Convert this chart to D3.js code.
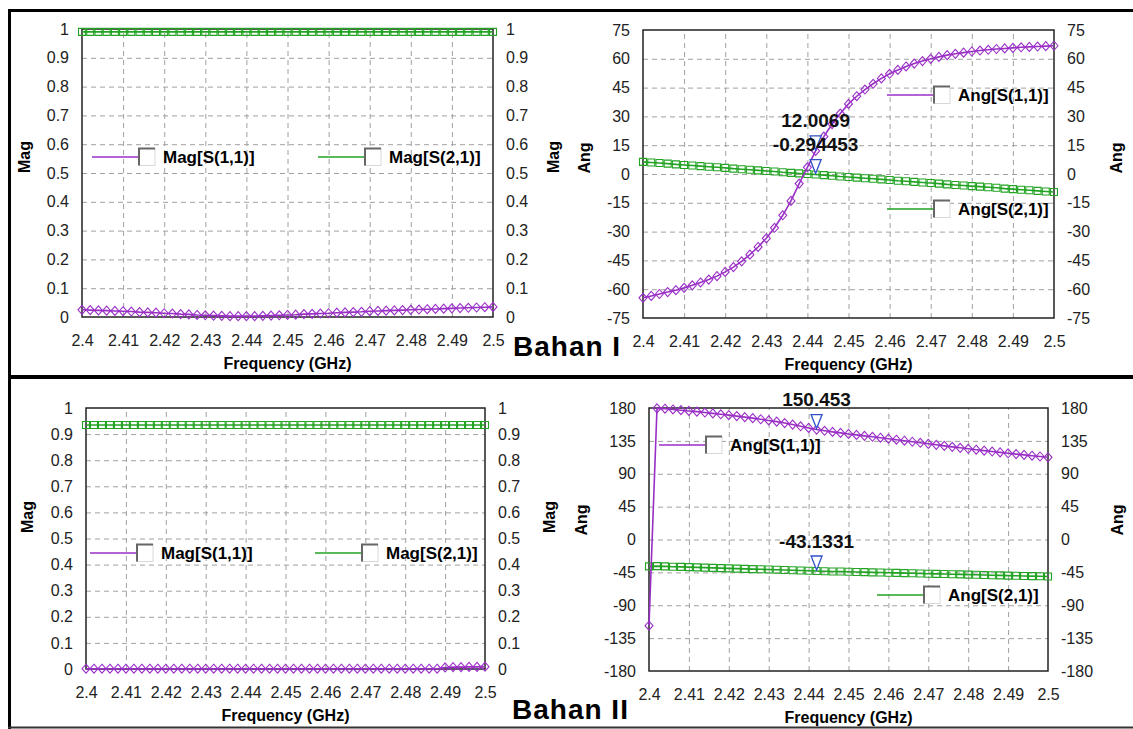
<!DOCTYPE html>
<html>
<head>
<meta charset="utf-8">
<script src="https://cdn.jsdelivr.net/npm/d3@7"></script>
<style>
  body { margin: 0; background: #fff; }
  text { font-family: "Liberation Sans", Arial, sans-serif; }
</style>
</head>
<body>
<svg width="1133" height="729"></svg>
<script>
// sweep points (GHz)
const freq = [2.400,2.402,2.404,2.406,2.408,2.410,2.412,2.414,2.416,2.418,
  2.420,2.422,2.424,2.426,2.428,2.430,2.432,2.434,2.436,2.438,
  2.440,2.442,2.444,2.446,2.448,2.450,2.452,2.454,2.456,2.458,
  2.460,2.462,2.464,2.466,2.468,2.470,2.472,2.474,2.476,2.478,
  2.480,2.482,2.484,2.486,2.488,2.490,2.492,2.494,2.496,2.498,
  2.500];

// tick values / labels
const xTicks = [2.4,2.41,2.42,2.43,2.44,2.45,2.46,2.47,2.48,2.49,2.5];
const xTickLabels = ["2.4","2.41","2.42","2.43","2.44","2.45","2.46","2.47","2.48","2.49","2.5"];
const magTicks = [0,0.1,0.2,0.3,0.4,0.5,0.6,0.7,0.8,0.9,1];
const angTicksI = [-75,-60,-45,-30,-15,0,15,30,45,60,75];
const angTicksII = [-180,-135,-90,-45,0,45,90,135,180];

// Bahan I
const magS11_I = [0.025,0.024,0.023,0.022,0.021,0.020,0.019,0.017,0.016,0.015,
  0.013,0.012,0.010,0.009,0.007,0.006,0.005,0.004,0.003,0.003,
  0.003,0.003,0.004,0.005,0.006,0.007,0.008,0.010,0.011,0.012,
  0.013,0.015,0.016,0.017,0.018,0.020,0.021,0.022,0.023,0.024,
  0.025,0.026,0.027,0.028,0.029,0.030,0.031,0.032,0.033,0.034,
  0.035];
const magS21_I = [0.99,0.99,0.99,0.99,0.99,0.99,0.99,0.99,0.99,0.99,
  0.99,0.99,0.99,0.99,0.99,0.99,0.99,0.99,0.99,0.99,
  0.99,0.99,0.99,0.99,0.99,0.99,0.99,0.99,0.99,0.99,
  0.99,0.99,0.99,0.99,0.99,0.99,0.99,0.99,0.99,0.99,
  0.99,0.99,0.99,0.99,0.99,0.99,0.99,0.99,0.99,0.99,
  0.99];
const angS11_I = [-64.5,-63.5,-62.5,-61.5,-60.5,-59.3,-58.0,-56.5,-55.0,-53.2,
  -51.0,-48.5,-45.5,-42.0,-38.0,-33.5,-28.0,-21.5,-14.0,-5.0,
  3.5,12.0069,19.5,26.0,31.5,36.5,40.5,44.0,47.0,49.8,
  52.2,54.2,56.0,57.5,58.8,60.0,61.0,61.9,62.6,63.2,
  63.8,64.3,64.7,65.1,65.4,65.7,66.0,66.2,66.4,66.6,
  66.8];
const angS21_I = [6.3,6.0,5.7,5.4,5.0,4.7,4.4,4.1,3.8,3.5,
  3.2,2.8,2.5,2.2,1.9,1.6,1.3,0.9,0.6,0.3,
  0.0,-0.294453,-0.6,-0.9,-1.3,-1.6,-1.9,-2.2,-2.5,-2.8,
  -3.1,-3.5,-3.8,-4.1,-4.4,-4.7,-5.0,-5.4,-5.7,-6.0,
  -6.3,-6.6,-6.9,-7.2,-7.6,-7.9,-8.2,-8.5,-8.8,-9.1,
  -9.4];

// Bahan II
const magS11_II = [0.001,0.001,0.001,0.001,0.001,0.001,0.001,0.001,0.001,0.001,
  0.001,0.001,0.001,0.001,0.001,0.001,0.001,0.001,0.001,0.001,
  0.001,0.001,0.001,0.001,0.001,0.001,0.001,0.001,0.001,0.001,
  0.001,0.001,0.001,0.001,0.001,0.001,0.001,0.001,0.001,0.001,
  0.001,0.001,0.001,0.001,0.001,0.006,0.007,0.007,0.008,0.008,
  0.009];
const magS21_II = [0.935,0.935,0.935,0.935,0.935,0.935,0.935,0.935,0.935,0.935,
  0.935,0.935,0.935,0.935,0.935,0.935,0.935,0.935,0.935,0.935,
  0.935,0.935,0.935,0.935,0.935,0.935,0.935,0.935,0.935,0.935,
  0.935,0.935,0.935,0.935,0.935,0.935,0.935,0.935,0.935,0.935,
  0.935,0.935,0.935,0.935,0.935,0.935,0.935,0.935,0.935,0.935,
  0.935];
const angS11_II = [-118,179.5,179.0,178.0,177.0,176.0,175.0,173.8,172.6,171.4,
  170.2,168.9,167.5,166.1,164.6,163.0,161.3,159.4,157.3,155.0,
  152.7,150.453,148.8,147.3,145.9,144.5,143.2,141.9,140.6,139.3,
  138.0,136.6,135.2,133.8,132.4,131.0,129.6,128.2,126.8,125.5,
  124.2,122.9,121.6,120.4,119.2,118.0,116.9,115.8,114.7,113.6,
  112.5];
const angS21_II = [-36.8,-36.5,-36.8,-37.2,-37.5,-37.8,-38.2,-38.5,-38.8,-39.2,
  -39.5,-39.8,-40.2,-40.5,-40.8,-41.1,-41.5,-41.8,-42.1,-42.5,
  -42.8,-43.1331,-43.4,-43.7,-43.9,-44.2,-44.4,-44.7,-45.0,-45.2,
  -45.5,-45.7,-46.0,-46.3,-46.5,-46.8,-47.0,-47.3,-47.6,-47.8,
  -48.1,-48.3,-48.6,-48.9,-49.1,-49.4,-49.6,-49.9,-50.2,-50.4,
  -50.7];

// marker readouts (at index of 2.442 GHz)
const markerIndex = 21;
const markerTextI = ["12.0069", "-0.294453"];
const markerTextII = ["150.453", "-43.1331"];

const purple = "#9a2fc6", green = "#22a322";

const svg = d3.select("svg");

// layout of the four plots
const panels = [
  { l: 82, r: 493, t: 29, b: 317, dom: [0, 1], ticks: magTicks, title: "Mag",
    s11: magS11_I, s21: magS21_I, names: ["Mag[S(1,1)]", "Mag[S(2,1)]"],
    leg: [[92, 157], [318, 157]], titleY: 157, tl: 24, tr: 553 },
  { l: 643, r: 1054, t: 30, b: 318, dom: [-75, 75], ticks: angTicksI, title: "Ang",
    s11: angS11_I, s21: angS21_I, names: ["Ang[S(1,1)]", "Ang[S(2,1)]"],
    leg: [[887, 95], [887, 209]], titleY: 158, tl: 584, tr: 1116, marks: markerTextI },
  { l: 86, r: 485, t: 408, b: 669, dom: [0, 1], ticks: magTicks, title: "Mag",
    s11: magS11_II, s21: magS21_II, names: ["Mag[S(1,1)]", "Mag[S(2,1)]"],
    leg: [[90, 553], [315, 553]], titleY: 517, tl: 27, tr: 549 },
  { l: 649, r: 1048, t: 408, b: 671, dom: [-180, 180], ticks: angTicksII, title: "Ang",
    s11: angS11_II, s21: angS21_II, names: ["Ang[S(1,1)]", "Ang[S(2,1)]"],
    leg: [[659, 445], [877, 595]], titleY: 520, tl: 581, tr: 1117, marks: markerTextII }
];

const diamond = "M0,-4.5L4,0L0,4.5L-4,0Z";
const square = "M-3.5,-3.5h7v7h-7Z";

panels.forEach((p) => {
  const x = d3.scaleLinear().domain([2.4, 2.5]).range([p.l, p.r]);
  const y = d3.scaleLinear().domain(p.dom).range([p.b, p.t]);
  const g = svg.append("g");

  // dashed grid
  const gx = g.append("g")
    .attr("transform", "translate(0," + p.b + ")")
    .call(d3.axisBottom(x).tickValues(xTicks.slice(1, -1)).tickSize(-(p.b - p.t)).tickFormat(""));
  const gy = g.append("g")
    .attr("transform", "translate(" + p.l + ",0)")
    .call(d3.axisLeft(y).tickValues(p.ticks.slice(1, -1)).tickSize(-(p.r - p.l)).tickFormat(""));
  [gx, gy].forEach((a) => {
    a.select(".domain").remove();
    a.selectAll("line").attr("stroke", "#a0a0a0").attr("stroke-dasharray", "5,4");
  });

  g.append("rect")
    .attr("x", p.l).attr("y", p.t)
    .attr("width", p.r - p.l).attr("height", p.b - p.t)
    .attr("fill", "none").attr("stroke", "#222").attr("stroke-width", 1.5);

  // tick labels
  const axes = [
    [d3.axisLeft(y).tickValues(p.ticks).tickFormat((d) => String(d)), "translate(" + p.l + ",0)", 13],
    [d3.axisRight(y).tickValues(p.ticks).tickFormat((d) => String(d)), "translate(" + p.r + ",0)", 13],
    [d3.axisBottom(x).tickValues(xTicks).tickFormat((d, i) => xTickLabels[i]), "translate(0," + p.b + ")", 18]
  ];
  axes.forEach(([ax, tr, pad]) => {
    const a = g.append("g").attr("transform", tr).call(ax.tickSize(0).tickPadding(pad));
    a.select(".domain").remove();
    a.selectAll("text")
      .style("font-family", "'Liberation Sans', Arial, sans-serif")
      .style("font-size", "16px").attr("fill", "#222");
  });

  // axis titles
  [p.tl, p.tr].forEach((tx) => {
    g.append("text")
      .attr("transform", "translate(" + tx + "," + p.titleY + ") rotate(-90)")
      .attr("text-anchor", "middle").attr("dominant-baseline", "central")
      .style("font-size", "16px").style("font-weight", "bold")
      .text(p.title);
  });
  g.append("text")
    .attr("x", (p.l + p.r) / 2).attr("y", p.b + 46)
    .attr("text-anchor", "middle").attr("dominant-baseline", "central")
    .style("font-size", "16px").style("font-weight", "bold")
    .text("Frequency (GHz)");

  // traces
  const series = [
    { v: p.s21, c: green, m: square },
    { v: p.s11, c: purple, m: diamond }
  ];
  series.forEach((s) => {
    const line = d3.line().x((d, i) => x(freq[i])).y((d) => y(d));
    g.append("path").datum(s.v)
      .attr("d", line).attr("fill", "none")
      .attr("stroke", s.c).attr("stroke-width", 1.6);
    g.selectAll(null).data(s.v).enter().append("path")
      .attr("d", s.m)
      .attr("transform", (d, i) => "translate(" + x(freq[i]) + "," + y(d) + ")")
      .attr("fill", "none").attr("stroke", s.c).attr("stroke-width", 1.1);
  });

  // legend
  [[p.s11, purple], [p.s21, green]].forEach((s, k) => {
    const [lx, ly] = p.leg[k];
    g.append("line").attr("x1", lx).attr("x2", lx + 46).attr("y1", ly).attr("y2", ly)
      .attr("stroke", s[1]).attr("stroke-width", 1.5);
    g.append("rect").attr("x", lx + 47).attr("y", ly - 8.5).attr("width", 16).attr("height", 17)
      .attr("fill", "#fff").attr("stroke", "#d8d8d8");
    g.append("path")
      .attr("d", "M" + (lx + 47) + "," + (ly + 8.5) + "V" + (ly - 8.5) + "H" + (lx + 63))
      .attr("fill", "none").attr("stroke", "#666").attr("stroke-width", 2);
    g.append("text").attr("x", lx + 71).attr("y", ly)
      .attr("dominant-baseline", "central")
      .style("font-size", "17px").style("font-weight", "bold")
      .text(p.names[k]);
  });

  // marker readouts
  if (p.marks) {
    [p.s11, p.s21].forEach((v, k) => {
      const mx = x(freq[markerIndex]), my = y(v[markerIndex]);
      g.append("path")
        .attr("d", "M" + (mx - 5.5) + "," + (my - 15) + "H" + (mx + 5.5) + "L" + mx + "," + (my - 1) + "Z")
        .attr("fill", "#fff").attr("fill-opacity", 0.85)
        .attr("stroke", "#3050c8").attr("stroke-width", 1.3);
      g.append("text").attr("x", mx).attr("y", my - 30)
        .attr("text-anchor", "middle").attr("dominant-baseline", "central")
        .style("font-size", "19px").style("font-weight", "bold").attr("fill", "#111")
        .text(p.marks[k]);
    });
  }
});

// outer frame and divider
svg.append("line").attr("x1", 8).attr("x2", 1133).attr("y1", 10.5).attr("y2", 10.5)
  .attr("stroke", "#000").attr("stroke-width", 3);
svg.append("line").attr("x1", 9.5).attr("x2", 9.5).attr("y1", 9).attr("y2", 729)
  .attr("stroke", "#000").attr("stroke-width", 3);
svg.append("line").attr("x1", 8).attr("x2", 1133).attr("y1", 377).attr("y2", 377)
  .attr("stroke", "#000").attr("stroke-width", 4);
svg.append("line").attr("x1", 8).attr("x2", 1133).attr("y1", 727.5).attr("y2", 727.5)
  .attr("stroke", "#333").attr("stroke-width", 2);

// panel captions
svg.append("text").attr("x", 513).attr("y", 356)
  .style("font-size", "28px").style("font-weight", "bold").style("letter-spacing", "1px")
  .text("Bahan I");
svg.append("text").attr("x", 512).attr("y", 719)
  .style("font-size", "28px").style("font-weight", "bold").style("letter-spacing", "1px")
  .text("Bahan II");
</script>
</body>
</html>
